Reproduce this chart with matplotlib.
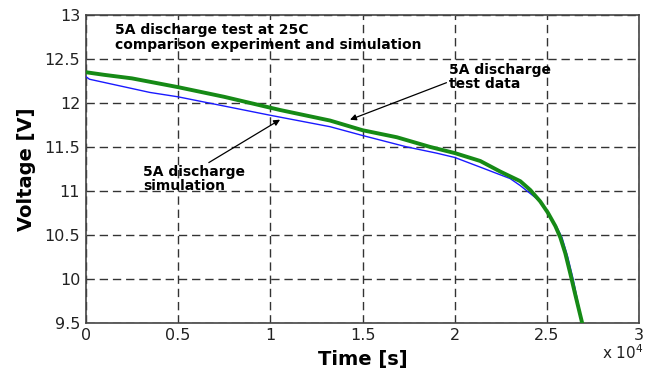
import numpy as np
import matplotlib
matplotlib.use("Agg")
import matplotlib.pyplot as plt

plt.rcParams['font.family'] = ['DejaVu Sans']

# test data (green), time in seconds
t_test = [0, 1000, 2500, 5000, 7500, 10530, 13240, 15000, 16860, 18660, 20000,
          21380, 22460, 23550, 24090, 24630, 25050, 25450, 25720, 25990,
          26260, 26530, 26900]
v_test = [12.35, 12.32, 12.28, 12.18, 12.07, 11.92, 11.80, 11.69, 11.61, 11.50, 11.43,
          11.34, 11.22, 11.11, 11.01, 10.88, 10.75, 10.60, 10.47, 10.29,
          10.06, 9.82, 9.50]

# simulation (blue)
t_sim = [0, 200, 3470, 5000, 10000, 13240, 15000, 17400, 19000, 20000, 21380,
         23000, 23550, 24630, 25050, 25500, 25810, 26120, 26410, 26900]
v_sim = [12.30, 12.27, 12.12, 12.07, 11.86, 11.73, 11.63, 11.50, 11.43, 11.38, 11.27,
         11.14, 11.06, 10.88, 10.74, 10.60, 10.47, 10.25, 10.00, 9.50]

xticks = [0, 5000, 10000, 15000, 20000, 25000, 30000]
xtick_labels = ['0', '0.5', '1', '1.5', '2', '2.5', '3']
yticks = [9.5, 10, 10.5, 11, 11.5, 12, 12.5, 13]
ytick_labels = ['9.5', '10', '10.5', '11', '11.5', '12', '12.5', '13']

fig = plt.figure(figsize=(6.55, 3.77), dpi=100)
ax = fig.add_axes([0.131, 0.144, 0.845, 0.816])

ax.plot(t_sim, v_sim, color='#1a1aff', lw=1.0, zorder=3)
ax.plot(t_test, v_test, color='#168a16', lw=2.8, zorder=4)

ax.set_xlim(0, 30000)
ax.set_ylim(9.5, 13)
ax.set_xticks(xticks)
ax.set_xticklabels(xtick_labels)
ax.set_yticks(yticks)
ax.set_yticklabels(ytick_labels)
ax.tick_params(length=0, labelsize=11.5, pad=4, colors='#222')
ax.grid(True, color='#333333', lw=1.0, linestyle=(0, (6, 3.5)))
for s in ax.spines.values():
    s.set_color('#444444')
    s.set_linewidth(1.2)

ax.set_xlabel('Time [s]', fontsize=14, fontweight='bold', labelpad=5)
ax.set_ylabel('Voltage [V]', fontsize=14, fontweight='bold', labelpad=6)
fig.text(0.982, 0.04, r'x 10$^4$', ha='right', va='bottom', fontsize=11, color='#222')

ax.text(0.052, 0.975, '5A discharge test at 25C\ncomparison experiment and simulation',
        transform=ax.transAxes, ha='left', va='top', fontsize=10, fontweight='bold',
        linespacing=1.1)

ax.annotate('5A discharge\ntest data', xy=(14320, 11.81), xytext=(19700, 12.45),
            fontsize=10, fontweight='bold', ha='left', va='top', linespacing=1.0,
            arrowprops=dict(arrowstyle='-|>', color='black', lw=0.9,
                            shrinkA=0, shrinkB=0, mutation_scale=9,
                            relpos=(0, 0.35)))
ax.annotate('5A discharge\nsimulation', xy=(10530, 11.81), xytext=(3100, 11.29),
            fontsize=10, fontweight='bold', ha='left', va='top', linespacing=1.0,
            arrowprops=dict(arrowstyle='-|>', color='black', lw=0.9,
                            shrinkA=0, shrinkB=0, mutation_scale=9,
                            relpos=(0.6, 1.0)))

fig.savefig('out.png', dpi=100)
